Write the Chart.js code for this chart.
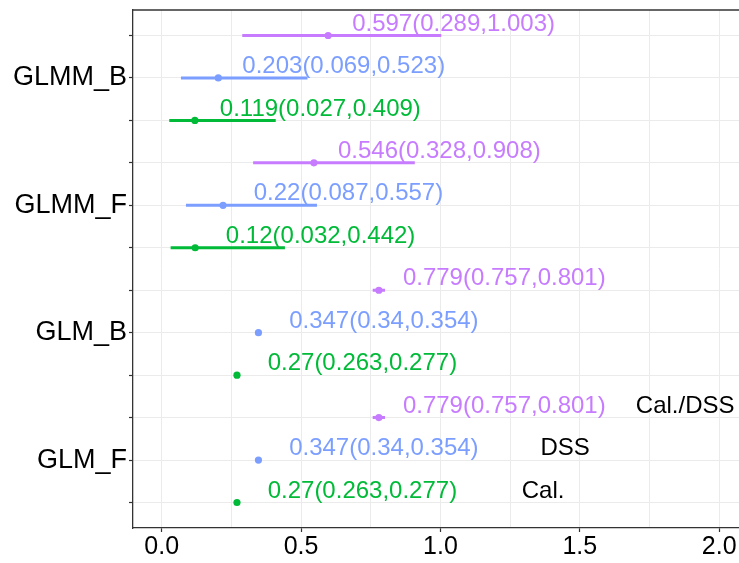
<!DOCTYPE html>
<html><head><meta charset="utf-8">
<script src="https://cdn.jsdelivr.net/npm/chart.js@4"></script>
<style>html,body{margin:0;padding:0;background:#fff}#wrap{width:739px;height:563px}</style>
</head><body><div id="wrap"><canvas id="c" width="739" height="563"></canvas></div>
<script>
// Categories (bottom to top)
const models = ['GLM_F', 'GLM_B', 'GLMM_F', 'GLMM_B'];
const seriesNames = ['Cal.', 'DSS', 'Cal./DSS'];
// Series values per model
const calEst  = [0.27, 0.27, 0.12, 0.119];
const calLow  = [0.263, 0.263, 0.032, 0.027];
const calHigh = [0.277, 0.277, 0.442, 0.409];
const dssEst  = [0.347, 0.347, 0.22, 0.203];
const dssLow  = [0.34, 0.34, 0.087, 0.069];
const dssHigh = [0.354, 0.354, 0.557, 0.523];
const bothEst  = [0.779, 0.779, 0.546, 0.597];
const bothLow  = [0.757, 0.757, 0.328, 0.289];
const bothHigh = [0.801, 0.801, 0.908, 1.003];
// Tick values
const xTicks = [0, 0.25, 0.5, 0.75, 1, 1.25, 1.5, 1.75, 2];
// Series name annotations (x positions, placed on GLM_F rows)
const nameX = [1.368, 1.447, 1.878];

const colors = ['#00BA38', '#7B9EFF', '#C77CFF'];
const est = [calEst, dssEst, bothEst];
const low = [calLow, dssLow, bothLow];
const high = [calHigh, dssHigh, bothHigh];
const rowOf = (m, s) => m * 3 + s;
const labelShift = 0.45;
const labelLift = 0.27;

const datasets = [];
seriesNames.forEach((name, s) => {
  const seg = [];
  models.forEach((mn, m) => {
    seg.push({x: low[s][m], y: rowOf(m, s)});
    seg.push({x: high[s][m], y: rowOf(m, s)});
    seg.push({x: NaN, y: NaN});
  });
  datasets.push({
    label: name + ' CI', data: seg, showLine: true, spanGaps: false,
    borderColor: colors[s], borderWidth: 3, borderCapStyle: 'butt',
    pointRadius: 0, pointHoverRadius: 0
  });
});
seriesNames.forEach((name, s) => {
  datasets.push({
    label: name, data: models.map((mn, m) => ({x: est[s][m], y: rowOf(m, s)})),
    showLine: false, pointRadius: 3.6, pointBorderWidth: 0,
    backgroundColor: colors[s], borderColor: colors[s]
  });
});

const textPlugin = {
  id: 'texts',
  afterDatasetsDraw(chart) {
    const {ctx, scales: {x, y}, chartArea} = chart;
    ctx.save();
    // top panel border
    ctx.strokeStyle = '#333333';
    ctx.lineWidth = 1.3;
    ctx.beginPath();
    ctx.moveTo(chartArea.left, chartArea.top);
    ctx.lineTo(chartArea.right, chartArea.top);
    ctx.stroke();
    ctx.font = '24px "Liberation Sans", Arial, sans-serif';
    ctx.textAlign = 'center';
    ctx.textBaseline = 'middle';
    seriesNames.forEach((name, s) => {
      ctx.fillStyle = colors[s];
      models.forEach((mn, m) => {
        const t = String(est[s][m]) + '(' + String(low[s][m]) + ',' + String(high[s][m]) + ')';
        ctx.fillText(t, x.getPixelForValue(est[s][m] + labelShift), y.getPixelForValue(rowOf(m, s) + labelLift));
      });
      ctx.fillStyle = '#000000';
      ctx.fillText(name, x.getPixelForValue(nameX[s]), y.getPixelForValue(rowOf(0, s) + labelLift));
    });
    ctx.restore();
  }
};

new Chart(document.getElementById('c'), {
  type: 'scatter',
  data: {datasets},
  plugins: [textPlugin],
  options: {
    responsive: false,
    animation: false,
    devicePixelRatio: 1,
    layout: {autoPadding: false, padding: {top: 10, left: 0, right: 0, bottom: 0}},
    plugins: {legend: {display: false}, tooltip: {enabled: false}},
    scales: {
      x: {
        type: 'linear', min: -0.103, max: 2.071,
        afterBuildTicks: sc => { sc.ticks = xTicks.map(v => ({value: v})); },
        afterFit: sc => { sc.height = 35; sc.paddingLeft = 0; sc.paddingRight = 0; },
        ticks: {
          autoSkip: false, maxRotation: 0, padding: 0, color: '#000',
          font: {family: '"Liberation Sans", Arial, sans-serif', size: 25},
          callback: v => (Math.abs(v * 2 - Math.round(v * 2)) < 1e-9) ? v.toFixed(1) : ''
        },
        grid: {
          color: '#EBEBEB', lineWidth: 1, tickLength: 4,
          tickColor: ctx => (ctx.tick && Math.abs(ctx.tick.value * 2 - Math.round(ctx.tick.value * 2)) < 1e-9) ? '#333333' : 'rgba(0,0,0,0)',
          tickWidth: 1.2
        },
        border: {color: '#333333', width: 1.3}
      },
      y: {
        type: 'linear', min: -0.6, max: 11.6,
        afterBuildTicks: sc => { sc.ticks = models.flatMap((mn, m) => seriesNames.map((n, s) => ({value: rowOf(m, s)}))); },
        afterFit: sc => { sc.width = 133; sc.paddingTop = 0; sc.paddingBottom = 0; },
        ticks: {
          autoSkip: false, padding: 2, color: '#000',
          font: {family: '"Liberation Sans", Arial, sans-serif', size: 27},
          callback: v => (v % 3 === 1) ? models[(v - 1) / 3] : ''
        },
        grid: {color: '#EBEBEB', lineWidth: 1, tickLength: 4, tickColor: '#333333', tickWidth: 1.2},
        border: {color: '#333333', width: 1.3}
      }
    }
  }
});
</script>
</body></html>
